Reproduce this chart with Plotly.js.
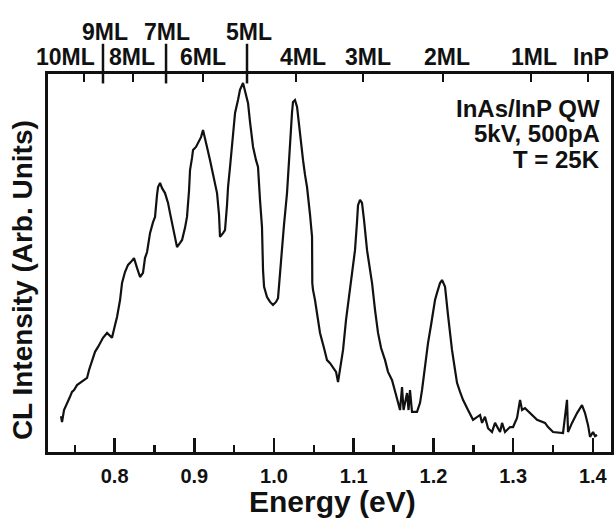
<!DOCTYPE html>
<html>
<head>
<meta charset="utf-8">
<script src="https://cdn.plot.ly/plotly-3.0.1.min.js"></script>
<style>
  html, body { margin: 0; padding: 0; background: #ffffff; }
  #chart { width: 615px; height: 521px; }
</style>
</head>
<body>
<div id="chart"></div>
<script>
// Cathodoluminescence spectrum of an InAs/InP quantum well, 25 K
const energy = [
  0.7327, 0.7340, 0.7365, 0.7403, 0.7440, 0.7465, 0.7491, 0.7528, 0.7566, 0.7616,
  0.7654, 0.7679, 0.7716, 0.7754, 0.7792, 0.7817, 0.7854, 0.7905, 0.7942, 0.7967,
  0.8005, 0.8030, 0.8068, 0.8093, 0.8130, 0.8168, 0.8206, 0.8243, 0.8281, 0.8319,
  0.8356, 0.8381, 0.8407, 0.8444, 0.8482, 0.8507, 0.8532, 0.8545, 0.8570, 0.8595,
  0.8632, 0.8657, 0.8670, 0.8695, 0.8720, 0.8745, 0.8783, 0.8821, 0.8846, 0.8883,
  0.8908, 0.8934, 0.8946, 0.8971, 0.8984, 0.9021, 0.9046, 0.9084, 0.9109, 0.9134,
  0.9159, 0.9197, 0.9222, 0.9260, 0.9285, 0.9310, 0.9322, 0.9360, 0.9385, 0.9410,
  0.9423, 0.9448, 0.9473, 0.9498, 0.9511, 0.9548, 0.9573, 0.9611, 0.9636, 0.9674,
  0.9699, 0.9737, 0.9774, 0.9799, 0.9824, 0.9849, 0.9862, 0.9875, 0.9912, 0.9950,
  0.9987, 1.0025, 1.0050, 1.0075, 1.0100, 1.0125, 1.0163, 1.0188, 1.0201, 1.0226,
  1.0238, 1.0263, 1.0289, 1.0314, 1.0326, 1.0351, 1.0364, 1.0389, 1.0414, 1.0452,
  1.0477, 1.0480, 1.0489, 1.0514, 1.0552, 1.0577, 1.0627, 1.0665, 1.0703, 1.0740,
  1.0778, 1.0803, 1.0828, 1.0866, 1.0903, 1.0928, 1.0954, 1.0991, 1.1016, 1.1041,
  1.1054, 1.1079, 1.1104, 1.1129, 1.1167, 1.1205, 1.1230, 1.1267, 1.1305, 1.1343,
  1.1393, 1.1430, 1.1481, 1.1531, 1.1581, 1.1606, 1.1625, 1.1669, 1.1688, 1.1706,
  1.1731, 1.1794, 1.1832, 1.1857, 1.1895, 1.1932, 1.1970, 1.1995, 1.2020, 1.2045,
  1.2083, 1.2108, 1.2133, 1.2146, 1.2183, 1.2208, 1.2233, 1.2271, 1.2296, 1.2334,
  1.2371, 1.2434, 1.2497, 1.2585, 1.2610, 1.2647, 1.2685, 1.2735, 1.2773, 1.2836,
  1.2861, 1.2898, 1.2961, 1.2999, 1.3049, 1.3087, 1.3112, 1.3149, 1.3212, 1.3300,
  1.3400, 1.3438, 1.3501, 1.3626, 1.3676, 1.3689, 1.3739, 1.3802, 1.3864, 1.3902,
  1.3940, 1.3965, 1.4003, 1.4028, 1.4053
];
const intensity = [
   9.5,  7.9, 11.1, 12.7, 14.6, 15.9, 16.4, 17.7, 18.3, 19.0,
  19.6, 21.7, 24.3, 26.5, 27.8, 28.8, 30.2, 31.5, 30.7, 30.2,
  33.6, 35.7, 40.2, 44.7, 47.6, 49.5, 50.3, 51.3, 48.7, 46.3,
  47.4, 51.3, 52.9, 57.9, 60.8, 62.2, 68.0, 70.1, 71.2, 69.8,
  68.5, 66.7, 65.9, 63.2, 60.6, 57.4, 54.2, 55.3, 56.1, 59.3,
  62.2, 69.3, 74.6, 77.8, 79.9, 80.7, 81.7, 83.3, 85.2, 82.5,
  80.7, 77.2, 74.6, 71.2, 68.5, 62.7, 56.9, 57.9, 58.7, 65.3,
  70.1, 75.4, 80.7, 86.5, 89.7, 93.1, 95.8, 97.6, 95.2, 92.3,
  87.3, 80.7, 77.2, 75.4, 66.7, 59.5, 48.1, 43.7, 41.0, 39.7,
  38.9, 39.7, 40.7, 48.1, 53.4, 60.1, 68.5, 77.2, 83.3, 89.9,
  92.6, 93.1, 91.3, 86.5, 83.3, 79.9, 77.2, 73.3, 70.1, 62.7,
  56.9, 44.7, 42.9, 40.2, 35.4, 31.5, 27.5, 24.3, 23.5, 22.5,
  21.2, 18.5, 21.7, 27.0, 34.9, 38.9, 42.9, 48.7, 53.4, 60.8,
  65.3, 66.7, 65.9, 61.4, 53.4, 48.1, 44.7, 37.6, 31.5, 27.5,
  24.3, 21.2, 19.0, 15.1, 11.1, 17.2, 11.1, 15.6, 11.1, 16.4,
  10.6, 10.6, 13.0, 16.4, 23.0, 28.8, 33.6, 36.8, 40.2, 42.1,
  44.7, 45.5, 44.4, 43.7, 36.2, 31.0, 27.0, 21.7, 18.3, 15.9,
  13.8, 11.1,  8.5,  9.8,  7.7,  9.3,  6.3,  5.3,  7.7,  5.3,
   7.7,  5.3,  6.6,  6.6,  9.0, 13.8, 11.1, 11.6, 10.3,  8.5,
   7.7,  6.6,  5.3,  5.0, 13.8,  5.3,  7.7, 10.3, 12.4, 10.3,
   7.1,  4.0,  5.3,  4.2,  4.5
];

// Well-width markers along the top axis (monolayers)
const mlLabels   = ['10ML', '9ML', '8ML', '7ML', '6ML', '5ML', '4ML', '3ML', '2ML', '1ML', 'InP'];
const mlEnergies = [0.7616, 0.7854, 0.8231, 0.8645, 0.9109, 0.9661, 1.0276, 1.1117, 1.2120, 1.3225, 1.3940];
const mlUpperRow = ['9ML', '7ML', '5ML'];

const energyTicks = [0.8, 0.9, 1.0, 1.1, 1.2, 1.3, 1.4];
const energyTickText = ['0.8', '0.9', '1.0', '1.1', '1.2', '1.3', '1.4'];

const noteLines = ['InAs/InP QW', '5kV, 500pA', 'T = 25K'];

const FONT = 'Liberation Sans, Arial, Helvetica, sans-serif';
const INK = '#111111';
const xRange = [0.7164, 1.4228];

const trace = {
  x: energy, y: intensity, type: 'scatter', mode: 'lines',
  line: { color: INK, width: 2.2 }, hoverinfo: 'skip', showlegend: false
};

// horizontal nudges so the ML labels sit clear of the marker lines
const labelShift = { '10ML': -19, '8ML': -1, '6ML': 0, '4ML': 7, '3ML': 5, '2ML': 4, '1ML': 3, 'InP': 3,
                     '9ML': 2, '7ML': 1, '5ML': 2 };

const annotations = mlLabels.map((lab, i) => {
  const upper = mlUpperRow.includes(lab);
  return {
    x: mlEnergies[i], xref: 'x', y: upper ? 1.11 : 1.045, yref: 'paper',
    text: lab, showarrow: false, xanchor: 'center', yanchor: 'middle',
    xshift: labelShift[lab] || 0,
    font: { family: FONT, size: 23, color: INK, weight: 'bold' }
  };
});
noteLines.forEach((line, i) => {
  annotations.push({
    x: 0.984, xref: 'paper', y: 0.91 - i * 0.068, yref: 'paper', xanchor: 'right', yanchor: 'middle',
    showarrow: false, text: line,
    font: { family: FONT, size: 24, color: INK, weight: 'bold' }
  });
});
// axis titles
annotations.push({
  x: 0.505, xref: 'paper', y: -0.13, yref: 'paper', xanchor: 'center', yanchor: 'middle',
  showarrow: false, text: 'Energy (eV)',
  font: { family: FONT, size: 30, color: INK, weight: 'bold' }
});
annotations.push({
  x: -0.046, xref: 'paper', y: 0.455, yref: 'paper', xanchor: 'center', yanchor: 'middle',
  showarrow: false, text: 'CL Intensity (Arb. Units)', textangle: -90,
  font: { family: FONT, size: 28, color: INK, weight: 'bold' }
});

// long markers for the odd monolayers rise above the frame to their labels
const shapes = mlUpperRow.map(lab => {
  const e = mlEnergies[mlLabels.indexOf(lab)];
  return { type: 'line', xref: 'x', yref: 'paper', x0: e, x1: e, y0: 0.975, y1: 1.08,
           line: { color: INK, width: 2.5 } };
});

const layout = {
  width: 615, height: 521,
  margin: { l: 48, r: 4, t: 74, b: 69 },
  paper_bgcolor: '#ffffff', plot_bgcolor: '#ffffff',
  font: { family: FONT, color: INK },
  xaxis: {
    range: xRange, showgrid: false, zeroline: false,
    showline: true, linewidth: 3, linecolor: INK, mirror: false,
    tickmode: 'array', tickvals: energyTicks, ticktext: energyTickText,
    ticks: 'inside', ticklen: 14, tickwidth: 2.5, tickcolor: INK,
    minor: { dtick: 0.05, tick0: 0.75, ticks: 'inside', ticklen: 7, tickwidth: 2.5, tickcolor: INK },
    tickfont: { family: FONT, size: 20, color: INK, weight: 'bold' },
    ticklabelstandoff: 4
  },
  xaxis2: {
    overlaying: 'x', side: 'top', range: xRange, showgrid: false, zeroline: false,
    showline: true, linewidth: 3, linecolor: INK,
    tickmode: 'array', tickvals: mlEnergies, ticktext: mlEnergies.map(() => ''),
    ticks: 'inside', ticklen: 8, tickwidth: 2.5, tickcolor: INK
  },
  yaxis: {
    range: [0, 100], showgrid: false, zeroline: false, showticklabels: false, ticks: '',
    showline: true, linewidth: 3, linecolor: INK, mirror: true
  },
  annotations: annotations,
  shapes: shapes
};

const topAxisCarrier = { x: [xRange[0]], y: [null], xaxis: 'x2', yaxis: 'y', type: 'scatter',
                         mode: 'lines', showlegend: false, hoverinfo: 'skip' };

Plotly.newPlot('chart', [trace, topAxisCarrier], layout, { displayModeBar: false, staticPlot: true });
</script>
</body>
</html>
